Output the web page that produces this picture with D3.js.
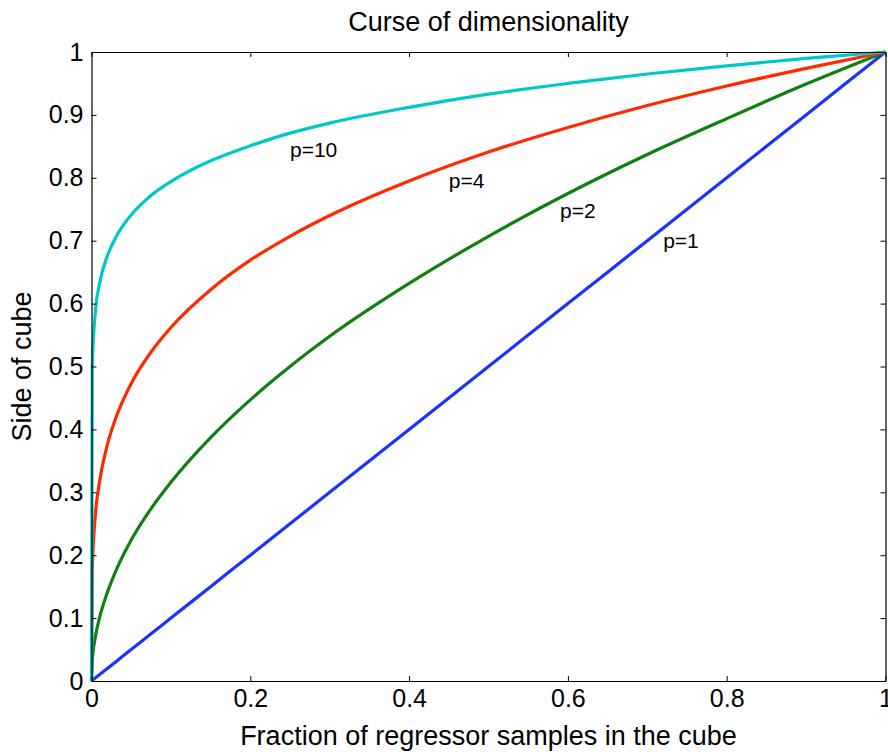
<!DOCTYPE html>
<html lang="en">
<head>
    <meta charset="UTF-8">
    <title>Curse of dimensionality</title>
    <script src="https://d3js.org/d3.v7.min.js"></script>
    <style>
        body { margin: 0; background: #fff; }
        text { font-family: "Liberation Sans", Arial, sans-serif; fill: #000; }
        .tick-label { font-size: 25px; }
        .axis-title { font-size: 27px; }
        .curve-label { font-size: 21px; }
        .line { fill: none; stroke-width: 3.2px; }
    </style>
</head>
<body>
    <svg id="chart"></svg>
    <script>
        // fraction of samples (x) and side of cube
        const fraction = [0, 0.001, 0.005, 0.01, 0.02, 0.03, 0.05, 0.075, 0.1, 0.15, 0.2, 0.25, 0.3, 0.4, 0.5, 0.6, 0.7, 0.8, 0.9, 1];
        const sideP1  = [0, 0.001, 0.005, 0.01, 0.02, 0.03, 0.05, 0.075, 0.1, 0.15, 0.2, 0.25, 0.3, 0.4, 0.5, 0.6, 0.7, 0.8, 0.9, 1];
        const sideP2  = [0, 0.032, 0.071, 0.1, 0.141, 0.173, 0.224, 0.274, 0.316, 0.387, 0.447, 0.5, 0.548, 0.632, 0.707, 0.775, 0.837, 0.894, 0.949, 1];
        const sideP4  = [0, 0.178, 0.266, 0.316, 0.376, 0.416, 0.473, 0.523, 0.562, 0.622, 0.669, 0.707, 0.740, 0.795, 0.841, 0.880, 0.915, 0.946, 0.974, 1];
        const sideP10 = [0, 0.501, 0.589, 0.631, 0.676, 0.704, 0.741, 0.772, 0.794, 0.827, 0.851, 0.871, 0.887, 0.912, 0.933, 0.950, 0.965, 0.978, 0.990, 1];

        const seriesNames = ["p=1", "p=2", "p=4", "p=10"];
        const seriesValues = [sideP1, sideP2, sideP4, sideP10];
        const seriesColors = ["#1a33ff", "#108010", "#ff2a00", "#00c8c8"];
        // where each label sits, in data units
        const labelX = [0.72, 0.59, 0.45, 0.25];
        const labelY = [0.70, 0.747, 0.795, 0.845];

        const xTicks = [0, 0.2, 0.4, 0.6, 0.8, 1];
        const yTicks = [0, 0.1, 0.2, 0.3, 0.4, 0.5, 0.6, 0.7, 0.8, 0.9, 1];

        const W = 888, H = 752;
        const margin = { top: 52, right: 2.5, bottom: 71, left: 91.5 };
        const width = W - margin.left - margin.right;
        const height = H - margin.top - margin.bottom;

        const svg = d3.select("#chart").attr("width", W).attr("height", H);
        const g = svg.append("g").attr("transform", "translate(" + margin.left + "," + margin.top + ")");

        const x = d3.scaleLinear().domain([0, 1]).range([0, width]);
        const y = d3.scaleLinear().domain([0, 1]).range([height, 0]);

        // curves
        const line = d3.line()
            .x((d, i) => x(fraction[i]))
            .y(d => y(d))
            .curve(d3.curveMonotoneX);

        seriesValues.forEach((vals, i) => {
            g.append("path")
                .datum(vals)
                .attr("class", "line")
                .attr("stroke", seriesColors[i])
                .attr("d", line);
        });

        // axes, matlab style: inward ticks on all four sides
        const tickLen = 5;
        g.append("g")
            .attr("transform", "translate(0," + height + ")")
            .call(d3.axisBottom(x).tickValues(xTicks).tickSizeInner(-tickLen).tickSizeOuter(0).tickPadding(8).tickFormat(d3.format("~g")))
            .call(a => a.selectAll("text").attr("class", "tick-label").attr("font-size", null).attr("font-family", null));
        g.append("g")
            .call(d3.axisTop(x).tickValues(xTicks).tickSizeInner(-tickLen).tickSizeOuter(0).tickFormat(""));
        g.append("g")
            .call(d3.axisLeft(y).tickValues(yTicks).tickSizeInner(-tickLen).tickSizeOuter(0).tickPadding(8).tickFormat(d3.format("~g")))
            .call(a => a.selectAll("text").attr("class", "tick-label").attr("font-size", null).attr("font-family", null));
        g.append("g")
            .attr("transform", "translate(" + width + ",0)")
            .call(d3.axisRight(y).tickValues(yTicks).tickSizeInner(-tickLen).tickSizeOuter(0).tickFormat(""));

        g.selectAll(".domain").attr("stroke", "#000").attr("stroke-width", 1.2);
        g.selectAll(".tick line").attr("stroke", "#000");

        // curve labels
        seriesNames.forEach((name, i) => {
            g.append("text")
                .attr("class", "curve-label")
                .attr("x", x(labelX[i]))
                .attr("y", y(labelY[i]))
                .attr("dy", "0.35em")
                .text(name);
        });

        // titles
        svg.append("text")
            .attr("class", "axis-title")
            .attr("x", margin.left + width / 2)
            .attr("y", 31)
            .attr("text-anchor", "middle")
            .text("Curse of dimensionality");

        svg.append("text")
            .attr("class", "axis-title")
            .attr("x", margin.left + width / 2)
            .attr("y", 745)
            .attr("text-anchor", "middle")
            .text("Fraction of regressor samples in the cube");

        svg.append("text")
            .attr("class", "axis-title")
            .attr("transform", "translate(31," + (margin.top + height / 2) + ") rotate(-90)")
            .attr("text-anchor", "middle")
            .text("Side of cube");
    </script>
</body>
</html>
